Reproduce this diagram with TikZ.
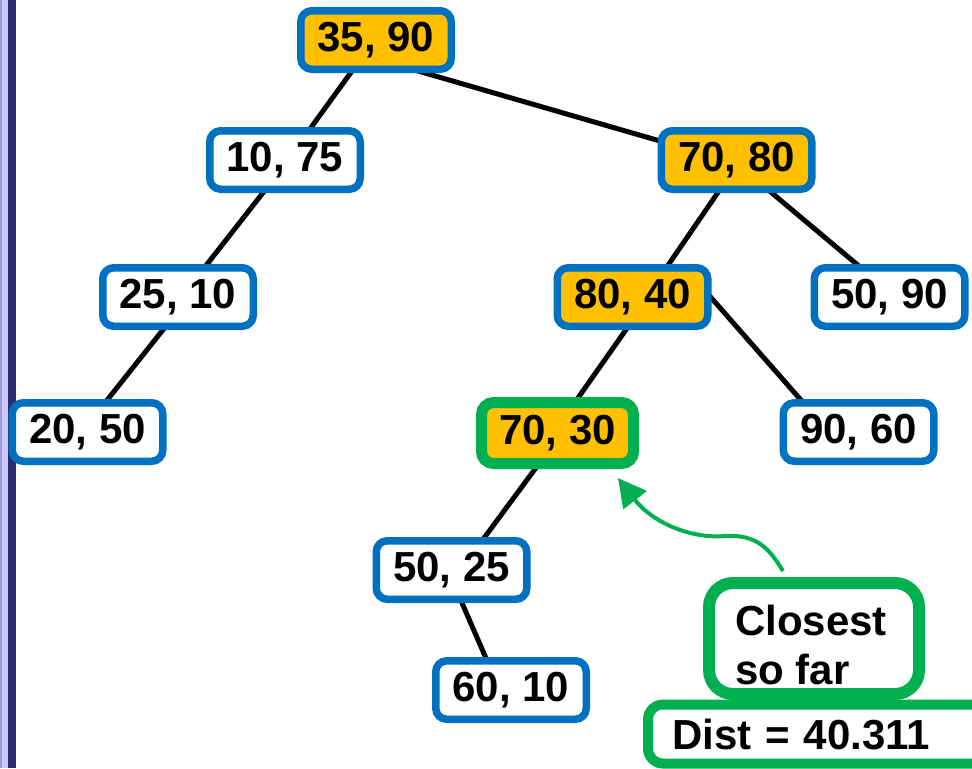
\documentclass[tikz,border=0pt]{standalone}
\usepackage{fontspec}
\setmainfont{Liberation Sans}
\usetikzlibrary{arrows.meta,backgrounds}
\definecolor{nblue}{HTML}{0070C0}
\definecolor{norange}{HTML}{FFC000}
\definecolor{ngreen}{HTML}{00B050}
\definecolor{lav}{HTML}{C8C8F2}
\definecolor{lavdark}{HTML}{9C9CD8}
\definecolor{navy}{HTML}{2B2B6E}
\pgfdeclarelayer{bottom}
\pgfsetlayers{bottom,background,main}
\begin{document}
\begin{tikzpicture}[x=0.5pt,y=-0.5pt,
  bigfont/.style={font=\bfseries\fontsize{21}{24.5}\selectfont},
  tnode/.style={bigfont, draw=nblue, line width=3.75pt, rounded corners=5.5pt, fill=white,
    minimum width=75.25pt, minimum height=29.25pt, inner sep=0pt},
  hot/.style={fill=norange},
  greennode/.style={bigfont, draw=ngreen, line width=5.5pt, rounded corners=6pt, fill=norange,
    minimum width=76pt, minimum height=30.5pt, inner sep=0pt},
  edgeline/.style={line width=2.5pt, black},
  callbox/.style={draw=ngreen, fill=white, inner sep=0pt}
]
\useasboundingbox (0,0) rectangle (972,768);
\clip (0,0) rectangle (972,768);
\begin{pgfonlayer}{bottom}
\fill[white] (0,0) rectangle (972,768);
% left stripes
\fill[lavdark] (0,0) rectangle (2,768);
\fill[lav] (2,0) rectangle (8,768);
\fill[navy] (8,0) rectangle (16,768);
\end{pgfonlayer}

% tree nodes
\node[tnode,hot] (r) at (376,40) {35, 90};
\node[tnode] (a) at (285,160) {10, 75};
\node[tnode,hot] (b) at (736.5,160) {70, 80};
\node[tnode] (c) at (178,297) {25, 10};
\node[tnode,hot] (d) at (632.5,297) {80, 40};
\node[tnode] (e) at (889.5,297) {50, 90};
\node[tnode] (f) at (87.5,432) {20, 50};
\node[greennode] (g) at (557.5,433) {70, 30};
\node[tnode] (h) at (858.5,432) {90, 60};
\node[tnode] (i) at (451.5,570) {50, 25};
\node[tnode] (j) at (511,690) {60, 10};

\begin{scope}[on background layer]
\draw[edgeline] ([shift={(-1.6,0)}]r.center) -- ([shift={(2.5,0)}]a.center);
\draw[edgeline] ([shift={(7.5,21)}]r.center) -- ([shift={(-10.8,0)}]b.center);
\draw[edgeline] ([shift={(3.7,0)}]b.center) -- ([shift={(13.7,0)}]d.center);
\draw[edgeline] ([shift={(-3.9,0)}]b.center) -- ([shift={(6.3,0)}]e.center);
\draw[edgeline] ([shift={(74.5,-4)}]d.center) -- ([shift={(-29.5,0)}]h.center);
\draw[edgeline] ([shift={(16.4,0)}]d.center) -- ([shift={(-4.1,0)}]g.center);
\draw[edgeline] ([shift={(3.6,0)}]a.center) -- ([shift={(3.4,0)}]c.center);
\draw[edgeline] ([shift={(11,0)}]c.center) -- ([shift={(-5.7,0)}]f.center);
\draw[edgeline] ([shift={(4.1,0)}]g.center) -- ([shift={(8.9,0)}]i.center);
\draw[edgeline] ([shift={(-3.8,0)}]i.center) -- ([shift={(-11.2,0)}]j.center);
\end{scope}

% callout boxes
\node[callbox, line width=6pt, rounded corners=12pt, minimum width=105pt, minimum height=55.5pt] (cl) at (814,638.5) {};
\node[bigfont, align=left, inner sep=0pt, xshift=-1.5pt, yshift=-3.25pt] (cltext) at (cl.center) {Closest\\so far};
\node[callbox, bigfont, line width=5pt, rounded corners=7.5pt, minimum width=181pt, minimum height=29.5pt,
  text width=157pt, inner xsep=12pt, inner ysep=0pt, align=left] (dist) at (829,734) {Dist = 40.311};

% arrow
\coordinate (tip) at (618,478);
\draw[ngreen, line width=2pt, -{Triangle[length=14pt,width=14.5pt]}]
  ([shift={(-31,-6)}]cl.north) .. controls (770,550) and (758,534) .. (725,536)
  .. controls (690,539) and (652,522) .. (tip);
\end{tikzpicture}
\end{document}
